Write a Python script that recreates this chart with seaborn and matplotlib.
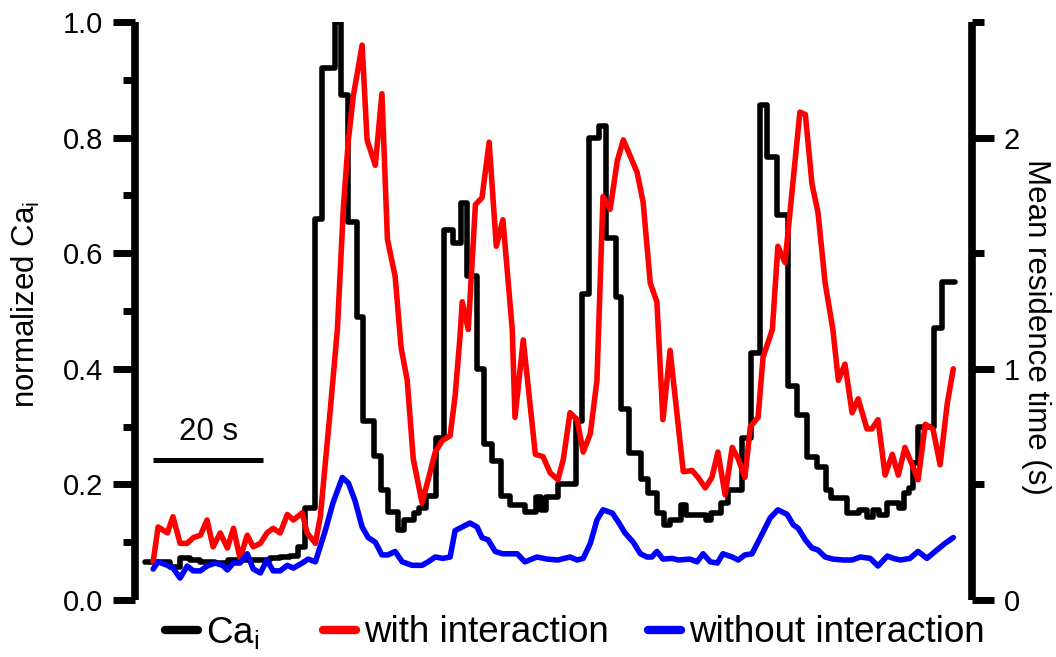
import numpy as np
import pandas as pd
import matplotlib
matplotlib.use("Agg")
import matplotlib.pyplot as plt
import seaborn as sns
from matplotlib.ticker import MultipleLocator, FixedLocator
from matplotlib.lines import Line2D

# ---------------- data (time in s) ----------------
ca_time = [-0.5, 4.0, 5.8, 7.6, 9.5, 12.2, 14.5, 18.5, 22.2, 24.0, 25.8, 27.3, 28.5, 30.4, 31.6,
           34.0, 35.1, 36.4, 38.0, 39.1, 41.1, 42.4, 43.6, 45.5, 46.5, 48.4, 49.3, 50.5, 52.4,
           53.8, 55.5, 56.9, 58.0, 59.8, 61.1, 62.5, 64.2, 65.8, 68.5, 70.5, 71.5, 72.4, 74.5,
           77.8, 78.9, 80.2, 82.0, 83.3, 85.1, 86.0, 87.5, 89.6, 90.9, 92.5, 93.8, 94.9, 96.9,
           97.8, 101.5, 102.4, 104.2, 105.5, 108.0, 109.6, 111.3, 112.5, 114.4, 116.4, 118.0,
           119.8, 121.6, 123.3, 124.2, 127.1, 129.3, 130.7, 131.8, 132.9, 134.4, 136.5, 137.5,
           138.4, 139.1, 140.0, 142.9, 144.4, 146.7]
ca_value = [0.066, 0.057, 0.073, 0.070, 0.066, 0.064, 0.070, 0.070, 0.072, 0.075, 0.076, 0.092,
            0.16, 0.66, 0.92, 1.0, 0.874, 0.654, 0.49, 0.31, 0.25, 0.19, 0.152, 0.121, 0.138,
            0.15, 0.16, 0.18, 0.28, 0.64, 0.617, 0.687, 0.56, 0.40, 0.27, 0.24, 0.18, 0.165,
            0.152, 0.178, 0.155, 0.178, 0.20, 0.31, 0.53, 0.80, 0.82, 0.626, 0.525, 0.33, 0.254,
            0.21, 0.185, 0.15, 0.13, 0.138, 0.165, 0.147, 0.138, 0.15, 0.168, 0.19, 0.28, 0.427,
            0.856, 0.767, 0.666, 0.37, 0.32, 0.247, 0.23, 0.19, 0.176, 0.15, 0.155, 0.143, 0.155,
            0.147, 0.168, 0.16, 0.185, 0.194, 0.237, 0.30, 0.47, 0.55, 0.55]

with_time = [0.9, 1.8, 3.5, 4.5, 5.8, 7.1, 8.2, 9.5, 10.7, 11.8, 13.1, 14.4, 15.5, 16.7, 18.0,
             19.1, 20.4, 21.6, 22.7, 24.0, 25.3, 26.4, 28.0, 28.9, 30.4, 31.3, 33.1, 34.4, 35.5,
             36.4, 37.3, 38.9, 39.8, 41.3, 42.5, 43.5, 44.9, 46.0, 47.1, 48.2, 49.8, 50.9, 52.2,
             53.5, 54.9, 55.8, 56.7, 57.1, 58.2, 59.5, 60.7, 62.0, 63.3, 64.5, 66.2, 66.7, 68.2,
             70.4, 71.8, 73.1, 74.5, 75.5, 76.7, 78.0, 79.1, 80.4, 81.6, 82.7, 84.0, 85.3, 86.4,
             88.9, 90.0, 91.3, 92.5, 93.6, 94.9, 97.3, 98.9, 100.0, 101.3, 102.5, 103.6, 104.9,
             106.2, 107.3, 108.5, 109.5, 110.9, 111.8, 113.5, 114.5, 115.8, 118.5, 119.5, 120.7,
             121.8, 123.1, 124.5, 125.5, 126.7, 128.0, 129.1, 130.7, 131.6, 132.7, 134.0, 135.3,
             136.4, 137.6, 138.9, 140.0, 141.3, 142.7, 144.0, 145.3, 146.4]
with_value = [0.165, 0.316, 0.29, 0.36, 0.245, 0.245, 0.27, 0.28, 0.346, 0.23, 0.29, 0.225, 0.31,
              0.18, 0.28, 0.23, 0.245, 0.29, 0.31, 0.29, 0.37, 0.346, 0.377, 0.29, 0.245, 0.36,
              0.82, 1.17, 1.70, 1.99, 2.18, 2.40, 1.99, 1.88, 2.19, 1.56, 1.40, 1.09, 0.95, 0.61,
              0.42, 0.52, 0.64, 0.69, 0.71, 0.88, 1.14, 1.29, 1.17, 1.71, 1.74, 1.98, 1.53, 1.645,
              1.17, 0.79, 1.125, 0.63, 0.62, 0.55, 0.52, 0.61, 0.81, 0.78, 0.64, 0.72, 0.95, 1.745,
              1.69, 1.90, 1.99, 1.85, 1.72, 1.37, 1.29, 0.78, 1.08, 0.555, 0.56, 0.53, 0.485, 0.53,
              0.64, 0.455, 0.66, 0.61, 0.53, 0.75, 0.79, 1.05, 1.17, 1.53, 1.46, 2.11, 2.10, 1.80,
              1.675, 1.37, 1.17, 0.95, 1.02, 0.81, 0.87, 0.74, 0.74, 0.78, 0.54, 0.63, 0.54, 0.66,
              0.585, 0.52, 0.76, 0.74, 0.585, 0.85, 1.0]

without_time = [0.9, 1.8, 3.5, 4.5, 5.8, 7.1, 8.2, 9.5, 10.7, 12.2, 13.5, 14.4, 15.5, 16.7, 18.0,
                19.1, 20.4, 21.6, 22.7, 24.0, 25.3, 26.4, 28.0, 29.1, 30.4, 32.2, 33.6, 35.3, 36.4,
                37.6, 38.9, 40.0, 41.3, 42.5, 43.6, 44.9, 46.2, 48.0, 49.8, 50.9, 52.2, 53.6, 54.9,
                55.8, 57.1, 58.5, 59.8, 60.7, 61.8, 63.1, 64.4, 67.1, 68.5, 70.7, 72.5, 74.5, 76.7,
                78.0, 79.1, 80.4, 81.6, 82.7, 84.4, 85.5, 86.7, 88.2, 89.5, 90.7, 91.6, 92.5, 93.6,
                95.3, 96.4, 98.5, 99.8, 100.9, 102.2, 103.5, 104.5, 106.2, 107.3, 108.5, 109.8,
                111.3, 113.1, 114.5, 116.2, 117.3, 118.2, 119.5, 120.7, 121.8, 123.1, 124.5, 126.4,
                128.0, 129.5, 131.3, 132.7, 134.4, 135.5, 136.8, 138.5, 140.0, 141.6, 143.1, 144.9,
                146.4]
without_value = [0.134, 0.165, 0.15, 0.138, 0.095, 0.147, 0.126, 0.126, 0.147, 0.16, 0.15, 0.13,
                 0.16, 0.16, 0.2, 0.134, 0.117, 0.173, 0.126, 0.126, 0.15, 0.138, 0.16, 0.177,
                 0.165, 0.30, 0.42, 0.53, 0.506, 0.43, 0.316, 0.27, 0.25, 0.195, 0.195, 0.21,
                 0.165, 0.15, 0.15, 0.165, 0.186, 0.18, 0.186, 0.30, 0.316, 0.333, 0.316, 0.27,
                 0.26, 0.21, 0.2, 0.2, 0.165, 0.186, 0.177, 0.173, 0.186, 0.173, 0.18, 0.245, 0.346,
                 0.39, 0.376, 0.337, 0.29, 0.25, 0.2, 0.186, 0.186, 0.21, 0.177, 0.18, 0.173, 0.177,
                 0.165, 0.2, 0.165, 0.16, 0.2, 0.186, 0.173, 0.195, 0.2, 0.27, 0.355, 0.39, 0.37,
                 0.325, 0.31, 0.26, 0.225, 0.216, 0.186, 0.177, 0.173, 0.173, 0.186, 0.18, 0.147,
                 0.19, 0.18, 0.173, 0.18, 0.21, 0.18, 0.21, 0.245, 0.27]

series_labels = ["Ca$_\\mathregular{i}$", "with interaction", "without interaction"]
series_colors = ["#000000", "#ff0000", "#0000ff"]
left_ticks = [0.0, 0.2, 0.4, 0.6, 0.8, 1.0]
left_ticklabels = ["0.0", "0.2", "0.4", "0.6", "0.8", "1.0"]
right_ticks = [0, 1, 2]
right_ticklabels = ["0", "1", "2"]
scalebar_start, scalebar_length, scalebar_level = 0.9, 20, 0.242
scalebar_text = "20 s"

# ---------------- style ----------------
sns.set_theme(style="ticks")
plt.rcParams['font.family'] = ['Liberation Sans', 'DejaVu Sans']
plt.rcParams['mathtext.fontset'] = 'custom'
plt.rcParams['mathtext.rm'] = 'Liberation Sans'
plt.rcParams['mathtext.it'] = 'Liberation Sans:italic'
plt.rcParams['text.color'] = 'black'
plt.rcParams['axes.labelcolor'] = 'black'
plt.rcParams['axes.edgecolor'] = 'black'

W, H = 1056, 657
fig = plt.figure(figsize=(W / 100, H / 100), dpi=100)
ax = fig.add_axes([135 / W, (H - 600) / H, (972 - 135) / W, (600 - 22) / H])
ax.set_facecolor('none')
ax2 = ax.twinx()

LW = 4.0
sns.lineplot(x=ca_time, y=ca_value, ax=ax, color=series_colors[0], lw=LW,
             drawstyle='steps-post', estimator=None, sort=False, legend=False)
sns.lineplot(x=with_time, y=with_value, ax=ax2, color=series_colors[1], lw=LW,
             estimator=None, sort=False, legend=False)
sns.lineplot(x=without_time, y=without_value, ax=ax2, color=series_colors[2], lw=LW,
             estimator=None, sort=False, legend=False)

ax.set_xlim(-2.4, 149.8)
ax.set_ylim(0, 1.0)
ax2.set_ylim(0, 2.5)

for a in (ax, ax2):
    for s in ('top', 'bottom'):
        a.spines[s].set_visible(False)
    a.xaxis.set_visible(False)
ax.spines['right'].set_visible(False)
ax2.spines['left'].set_visible(False)
for sp in (ax.spines['left'], ax2.spines['right']):
    sp.set_linewidth(5.5)
    sp.set_edgecolor('black')
    sp.set_capstyle('butt')

ax.yaxis.set_major_locator(FixedLocator(left_ticks))
ax.set_yticklabels(left_ticklabels)
ax.yaxis.set_minor_locator(MultipleLocator(0.1))
ax2.yaxis.set_major_locator(FixedLocator(right_ticks))
ax2.set_yticklabels(right_ticklabels)
ax2.yaxis.set_minor_locator(MultipleLocator(0.5))

for a in (ax, ax2):
    a.tick_params(axis='y', which='major', length=16, width=5, direction='out',
                  labelsize=21, pad=7, colors='black')
    a.tick_params(axis='y', which='minor', length=8.5, width=5, direction='out', colors='black')

ax.set_ylabel("normalized Ca$_\\mathregular{i}$", fontsize=22.5)
ax.yaxis.set_label_coords(-0.111, 0.512)
ax2.set_ylabel("Mean residence time (s)", fontsize=22.5, rotation=270, va='bottom')
ax2.yaxis.set_label_coords(1.058, 0.472)

# scale bar
ax.plot([scalebar_start, scalebar_start + scalebar_length], [scalebar_level, scalebar_level],
        color='black', lw=3.6, solid_capstyle='butt')
ax.text(scalebar_start + scalebar_length / 2, scalebar_level + 0.022, scalebar_text,
        ha='center', va='bottom', fontsize=22.5)

# legend: one entry per box, placed like the reference
legend_x_px = [165, 323, 648]
for color, label, xpx in zip(series_colors, series_labels, legend_x_px):
    h = Line2D([], [], color=color, lw=6, solid_capstyle='round')
    leg = fig.legend([h], [label], loc='center left', bbox_to_anchor=(xpx / W, 1 - 633 / H),
                     frameon=False, fontsize=26.5, handlelength=0.9, handletextpad=0.22,
                     borderaxespad=0, borderpad=0)

fig.savefig("out.png", dpi=100)
